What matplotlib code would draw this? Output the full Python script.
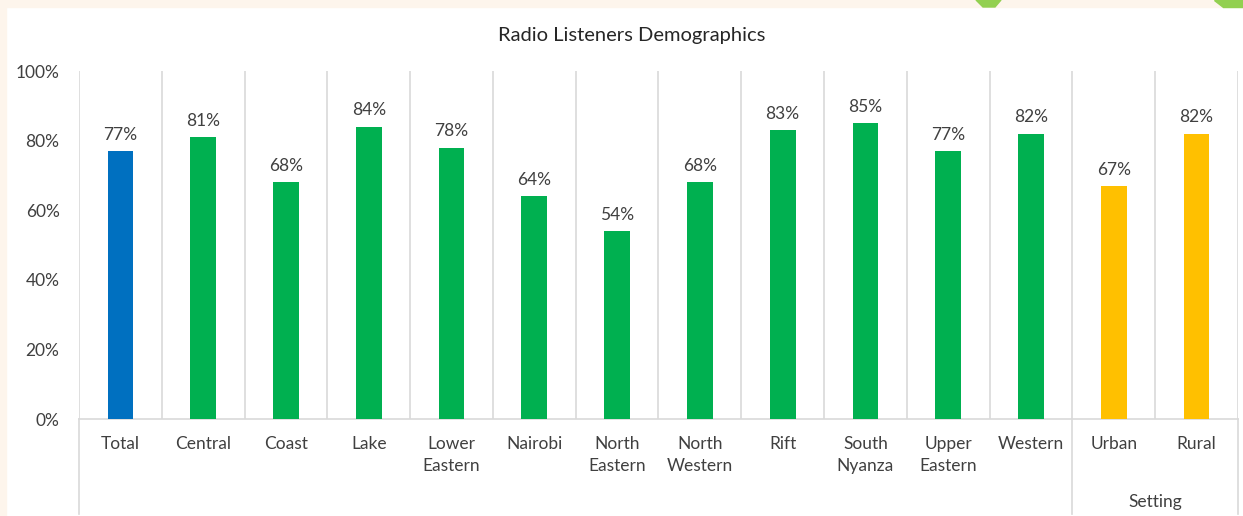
import matplotlib.pyplot as plt
from matplotlib.patches import Rectangle, Polygon
import matplotlib.transforms as mtransforms

plt.rcParams['font.family'] = ['Lato', 'DejaVu Sans']

# listener share by category
categories = ['Total', 'Central', 'Coast', 'Lake', 'Lower\nEastern', 'Nairobi',
              'North\nEastern', 'North\nWestern', 'Rift', 'South\nNyanza',
              'Upper\nEastern', 'Western', 'Urban', 'Rural']
listeners = [77, 81, 68, 84, 78, 64, 54, 68, 83, 85, 77, 82, 67, 82]
groups = ['total'] + ['region'] * 11 + ['setting'] * 2

group_colors = {'total': '#0070C0', 'region': '#00B050', 'setting': '#FFC000'}
text_col = '#404040'
grid_col = '#D9D9D9'

W, H = 1243, 516
fig = plt.figure(figsize=(W / 100, H / 100), dpi=100)
fig.patch.set_facecolor('white')

# cream frame along top and left edge, plus green tabs
fig.patches.append(Rectangle((0, 1 - 7 / H), 1, 7 / H, transform=fig.transFigure,
                             color='#FDF5EC', zorder=0))
fig.patches.append(Rectangle((0, 0), 6 / W, 1, transform=fig.transFigure,
                             color='#FDF5EC', zorder=0))
for pts in ([(976, 0), (1001, 0), (995, 7), (983, 7)],
            [(1214, 0), (1243, 0), (1243, 7), (1223, 7)]):
    fig.patches.append(Polygon([(x / W, 1 - y / H) for x, y in pts], closed=True,
                               transform=fig.transFigure, color='#92D050', zorder=1))

ax_l, ax_r, ax_t, ax_b = 79, 1238, 71, 419
ax = fig.add_axes([ax_l / W, 1 - ax_b / H, (ax_r - ax_l) / W, (ax_b - ax_t) / H])
ax.set_facecolor('none')

x = list(range(len(categories)))
bars = ax.bar(x, listeners, width=0.31,
              color=[group_colors[g] for g in groups], zorder=3)
for xi, v in zip(x, listeners):
    ax.annotate(f'{v}%', (xi, v), xytext=(0, 6), textcoords='offset points',
                ha='center', va='bottom', fontsize=12.5, color=text_col)

ax.set_xlim(-0.5, len(categories) - 0.5)
ax.set_ylim(0, 100)
ax.set_yticks(range(0, 101, 20))
ax.set_yticklabels([f'{t}%' for t in range(0, 101, 20)])
ax.set_xticks(x)
ax.set_xticklabels(categories, linespacing=1.5)
ax.tick_params(axis='both', length=0, labelsize=12.5, labelcolor=text_col)
ax.tick_params(axis='y', pad=14)
ax.tick_params(axis='x', pad=12)
for lab in ax.get_xticklabels():
    lab.set_verticalalignment('top')

for s in ['top', 'right', 'left']:
    ax.spines[s].set_visible(False)
ax.spines['bottom'].set_color(grid_col)
ax.spines['bottom'].set_linewidth(1.2)

# category separators
for b in range(len(categories) + 1):
    ax.axvline(b - 0.5, color=grid_col, lw=1.2, zorder=1)

# group separators run down through the label area
trans = mtransforms.blended_transform_factory(ax.transData, ax.transAxes)
low = -(514 - ax_b) / (ax_b - ax_t)
for b in (-0.5, 11.5, 13.5):
    ax.plot([b, b], [0, low], transform=trans, color=grid_col, lw=1.2,
            clip_on=False, zorder=1)
ax.text(12.5, -(502 - ax_b) / (ax_b - ax_t), 'Setting', transform=trans,
        ha='center', va='center', fontsize=12.5, color=text_col)

fig.text(632 / W, 1 - 35 / H, 'Radio Listeners Demographics',
         ha='center', va='center', fontsize=14.5, color='#262626')

fig.savefig('out.png', dpi=100)
